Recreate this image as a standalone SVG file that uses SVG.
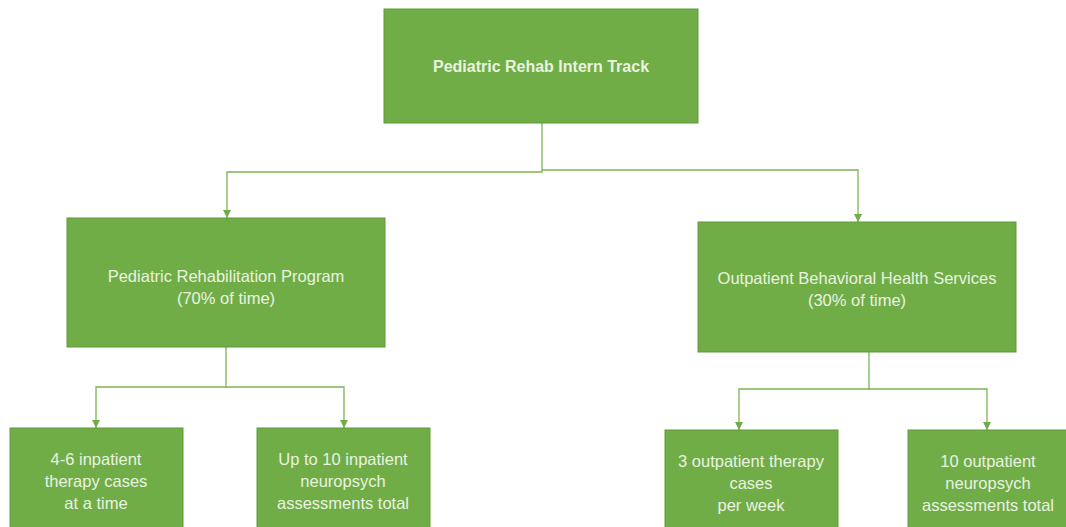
<svg xmlns="http://www.w3.org/2000/svg" width="1066" height="527" viewBox="0 0 1066 527">
<style>
.box{fill:#70AD47;stroke:#5E9A3A;stroke-width:1}
.t{font-family:"Liberation Sans",Arial,sans-serif;font-size:16.5px;fill:#EAF2E0;text-anchor:middle}
.tb{font-weight:bold;font-size:16px}
.c{fill:none;stroke:#7DB255;stroke-width:1.3}
</style>
<defs>
<marker id="ah" markerWidth="8" markerHeight="8" refX="8" refY="4" orient="auto" markerUnits="userSpaceOnUse" viewBox="0 0 8 8">
<path d="M0,0 L8,4 L0,8 Z" fill="#70AD47"/>
</marker>
</defs>
<rect width="1066" height="527" fill="#ffffff"/>
<g id="connectors">
<path class="c" d="M542,123 V172 H227 V218" marker-end="url(#ah)"/>
<path class="c" d="M542,170 H858 V222" marker-end="url(#ah)"/>
<path class="c" d="M226,347 V387 H96 V428" marker-end="url(#ah)"/>
<path class="c" d="M226,387 H344 V428" marker-end="url(#ah)"/>
<path class="c" d="M869,352 V389 H739 V430" marker-end="url(#ah)"/>
<path class="c" d="M869,389 H987 V430" marker-end="url(#ah)"/>
</g>
<g id="root">
<rect class="box" x="384" y="9" width="314" height="114"/>
<text class="t tb" x="541" y="72">Pediatric Rehab Intern Track</text>
</g>
<g id="rehab">
<rect class="box" x="67" y="218" width="318" height="129"/>
<text class="t" x="226" y="282">Pediatric Rehabilitation Program</text>
<text class="t" x="226" y="304">(70% of time)</text>
</g>
<g id="outpatient">
<rect class="box" x="698" y="222" width="318" height="130"/>
<text class="t" x="857" y="284">Outpatient Behavioral Health Services</text>
<text class="t" x="857" y="306">(30% of time)</text>
</g>
<g id="inpatient-therapy">
<rect class="box" x="10" y="428" width="173" height="110"/>
<text class="t" x="96" y="465">4-6 inpatient</text>
<text class="t" x="96" y="487">therapy cases</text>
<text class="t" x="96" y="509">at a time</text>
</g>
<g id="inpatient-neuro">
<rect class="box" x="257" y="428" width="173" height="110"/>
<text class="t" x="343" y="465">Up to 10 inpatient</text>
<text class="t" x="343" y="487">neuropsych</text>
<text class="t" x="343" y="509">assessments total</text>
</g>
<g id="outpatient-therapy">
<rect class="box" x="665" y="430" width="173" height="110"/>
<text class="t" x="751" y="467">3 outpatient therapy</text>
<text class="t" x="751" y="489">cases</text>
<text class="t" x="751" y="511">per week</text>
</g>
<g id="outpatient-neuro">
<rect class="box" x="908" y="430" width="173" height="110"/>
<text class="t" x="988" y="467">10 outpatient</text>
<text class="t" x="988" y="489">neuropsych</text>
<text class="t" x="988" y="511">assessments total</text>
</g>
</svg>
